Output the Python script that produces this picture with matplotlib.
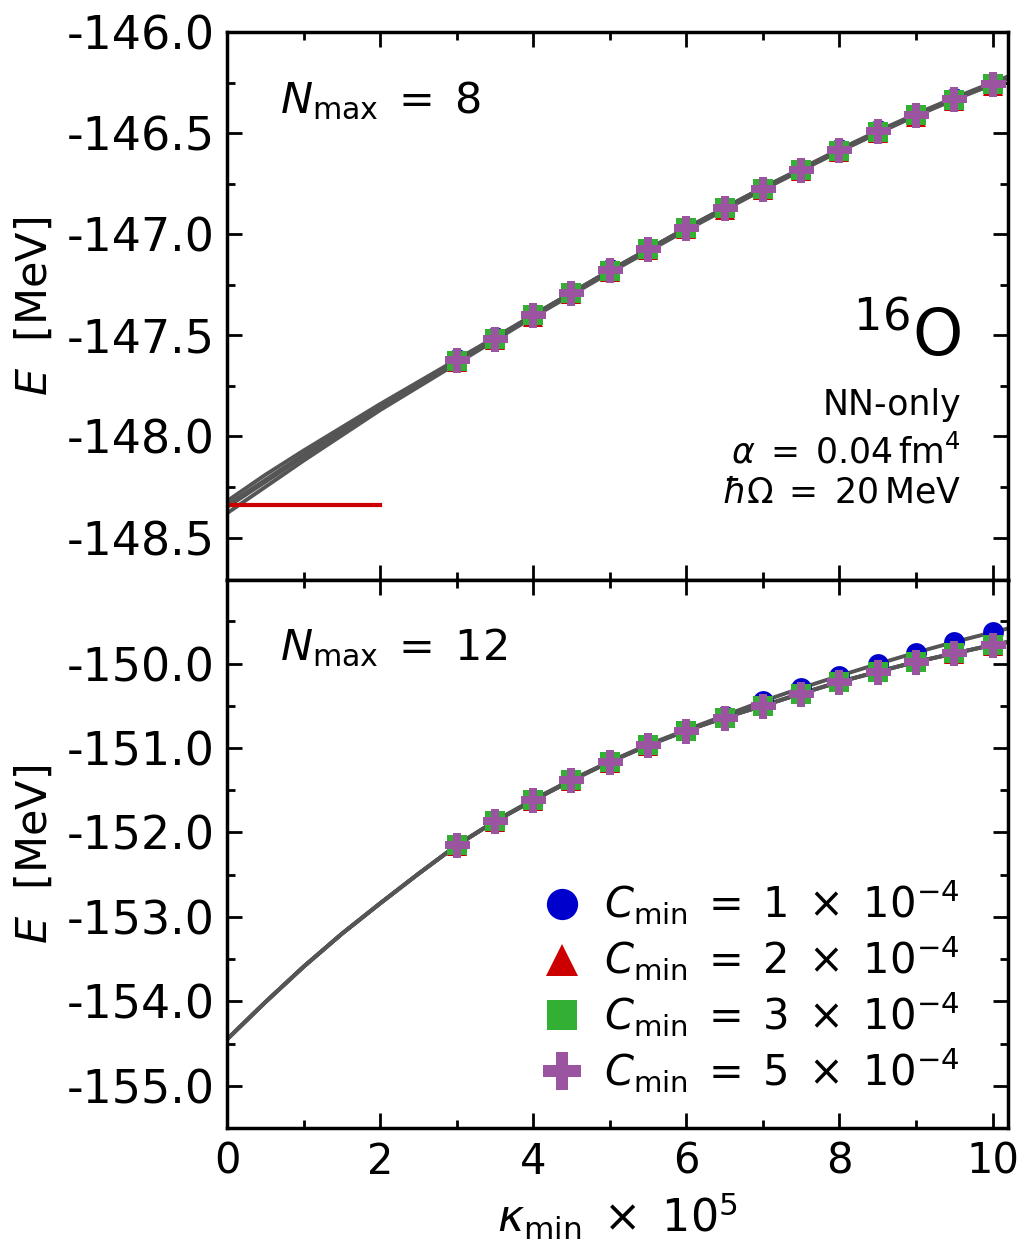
import matplotlib.pyplot as plt
import numpy as np
from matplotlib.ticker import MultipleLocator, FormatStrFormatter

plt.rcParams['axes.unicode_minus'] = False
plt.rcParams['mathtext.fontset'] = 'dejavusans'

# kappa_min x 10^5 for the data points
kappa = np.array([3.0, 3.5, 4.0, 4.5, 5.0, 5.5, 6.0, 6.5, 7.0, 7.5, 8.0, 8.5, 9.0, 9.5, 10.0])

# Nmax = 8 energies (MeV)
E8_c1 = np.array([-147.618, -147.510, -147.395, -147.284, -147.173, -147.066, -146.962, -146.865, -146.769, -146.675, -146.579, -146.485, -146.405, -146.328, -146.252])
E8_c2 = np.array([-147.632, -147.524, -147.409, -147.297, -147.186, -147.079, -146.975, -146.878, -146.782, -146.688, -146.592, -146.498, -146.418, -146.340, -146.265])
E8_c3 = np.array([-147.626, -147.518, -147.402, -147.291, -147.180, -147.073, -146.969, -146.872, -146.776, -146.682, -146.586, -146.492, -146.412, -146.335, -146.259])
E8_c5 = np.array([-147.624, -147.516, -147.400, -147.289, -147.178, -147.071, -146.967, -146.870, -146.774, -146.680, -146.584, -146.490, -146.410, -146.333, -146.257])

# Nmax = 12 energies (MeV)
E12_c1 = np.array([-152.150, -151.865, -151.615, -151.378, -151.160, -150.962, -150.785, -150.620, -150.446, -150.290, -150.146, -150.010, -149.870, -149.740, -149.625])
E12_c2 = np.array([-152.160, -151.875, -151.627, -151.390, -151.172, -150.975, -150.800, -150.647, -150.507, -150.362, -150.224, -150.105, -149.987, -149.887, -149.787])
E12_c3 = np.array([-152.153, -151.868, -151.620, -151.383, -151.165, -150.968, -150.794, -150.640, -150.500, -150.355, -150.217, -150.098, -149.980, -149.880, -149.780])
E12_c5 = np.array([-152.153, -151.868, -151.620, -151.383, -151.165, -150.968, -150.794, -150.640, -150.500, -150.355, -150.217, -150.098, -149.980, -149.880, -149.780])

# extrapolation curves
kappa_fit = np.array([0.0, 0.5, 1.0, 1.5, 2.0, 2.5, 3.0, 3.5, 4.0, 4.5, 5.0, 5.5, 6.0, 6.5, 7.0, 7.5, 8.0, 8.5, 9.0, 9.5, 10.0, 10.4])
fit8 = [
    np.array([-148.32, -148.19, -148.07, -147.955, -147.84, -147.73, -147.62, -147.51, -147.40, -147.29, -147.18, -147.075, -146.97, -146.87, -146.77, -146.675, -146.58, -146.49, -146.405, -146.325, -146.25, -146.19]),
    np.array([-148.38, -148.25, -148.12, -147.995, -147.87, -147.755, -147.64, -147.525, -147.41, -147.30, -147.19, -147.085, -146.98, -146.88, -146.78, -146.685, -146.59, -146.50, -146.415, -146.335, -146.26, -146.20]),
    np.array([-148.35, -148.225, -148.10, -147.98, -147.86, -147.745, -147.63, -147.515, -147.40, -147.29, -147.18, -147.075, -146.97, -146.87, -146.77, -146.68, -146.59, -146.50, -146.41, -146.33, -146.26, -146.20]),
    np.array([-148.34, -148.215, -148.09, -147.97, -147.85, -147.74, -147.63, -147.515, -147.40, -147.29, -147.18, -147.075, -146.97, -146.87, -146.77, -146.68, -146.585, -146.495, -146.41, -146.33, -146.255, -146.195]),
]
fit12 = [
    np.array([-154.45, -154.01, -153.59, -153.20, -152.84, -152.49, -152.15, -151.865, -151.61, -151.375, -151.16, -150.96, -150.785, -150.615, -150.445, -150.29, -150.145, -150.005, -149.87, -149.745, -149.63, -149.54]),
    np.array([-154.45, -154.01, -153.59, -153.20, -152.84, -152.49, -152.155, -151.87, -151.62, -151.385, -151.165, -150.97, -150.795, -150.64, -150.50, -150.355, -150.217, -150.095, -149.98, -149.88, -149.78, -149.71]),
    np.array([-154.45, -154.01, -153.59, -153.20, -152.84, -152.49, -152.153, -151.868, -151.62, -151.383, -151.165, -150.968, -150.794, -150.64, -150.50, -150.355, -150.217, -150.098, -149.98, -149.88, -149.78, -149.71]),
    np.array([-154.45, -154.01, -153.59, -153.20, -152.84, -152.49, -152.153, -151.868, -151.62, -151.383, -151.165, -150.968, -150.794, -150.64, -150.50, -150.355, -150.217, -150.098, -149.98, -149.88, -149.78, -149.71]),
]

# reference value (red line) for Nmax = 8
ref_kappa = [0.0, 2.0]
ref_E8 = [-148.34, -148.34]

labels = [r'$C_{\min}\;=\;1\;\times\;10^{-4}$', r'$C_{\min}\;=\;2\;\times\;10^{-4}$',
          r'$C_{\min}\;=\;3\;\times\;10^{-4}$', r'$C_{\min}\;=\;5\;\times\;10^{-4}$']
colors = ['#0000cc', '#cc0000', '#33b033', '#9b55a0']
markers = ['o', '^', 's', 'P']
msizes = [15, 15, 14, 18]

fig = plt.figure(figsize=(10.18, 12.51), dpi=100)
ax1 = fig.add_axes([0.223, 0.5364, 0.767, 0.4380])
ax2 = fig.add_axes([0.223, 0.0983, 0.767, 0.4381], sharex=ax1)

for ax, fits, data in [(ax1, fit8, [E8_c1, E8_c2, E8_c3, E8_c5]),
                       (ax2, fit12, [E12_c1, E12_c2, E12_c3, E12_c5])]:
    for f in fits:
        ax.plot(kappa_fit, f, color='#555555', lw=2.8, zorder=2)
    for E, c, m, ms, lab in zip(data, colors, markers, msizes, labels):
        ax.plot(kappa, E, ls='none', marker=m, color=c, ms=ms, mew=0, label=lab, zorder=3)

ax1.plot(ref_kappa, ref_E8, color='#cc0000', lw=3, zorder=2)

ax1.set_xlim(0, 10.2)
ax1.set_ylim(-148.71, -146.0)
ax2.set_ylim(-155.5, -149.01)

ax1.yaxis.set_major_locator(MultipleLocator(0.5))
ax1.yaxis.set_minor_locator(MultipleLocator(0.25))
ax2.yaxis.set_major_locator(MultipleLocator(1.0))
ax2.yaxis.set_minor_locator(MultipleLocator(0.5))
ax2.xaxis.set_major_locator(MultipleLocator(2))
ax2.xaxis.set_minor_locator(MultipleLocator(1))
for ax in (ax1, ax2):
    ax.yaxis.set_major_formatter(FormatStrFormatter('%.1f'))
    ax.tick_params(which='both', direction='in', top=True, right=True, width=2, labelsize=33, pad=9)
    ax.tick_params(which='major', length=11)
    ax.tick_params(which='minor', length=6)
    for s in ax.spines.values():
        s.set_linewidth(2.5)
    ax.set_ylabel(r'$E$  [MeV]', fontsize=31, labelpad=8)
plt.setp(ax1.get_xticklabels(), visible=False)
ax2.tick_params(axis='x', labelsize=30)
ax2.set_xlabel(r'$\kappa_{\min}\;\times\;10^5$', fontsize=32, labelpad=6)

ax1.text(0.068, 0.852, r'$N_{\max}\;=\;8$', transform=ax1.transAxes, fontsize=31)
ax2.text(0.068, 0.854, r'$N_{\max}\;=\;12$', transform=ax2.transAxes, fontsize=31)
ax1.text(0.94, 0.41, r'$^{16}$O', transform=ax1.transAxes, fontsize=46, ha='right')
ax1.text(0.94, 0.319, 'NN-only', transform=ax1.transAxes, fontsize=25, ha='right', va='center')
ax1.text(0.94, 0.232, r'$\alpha\;=\;0.04\,\mathrm{fm}^4$', transform=ax1.transAxes, fontsize=25, ha='right', va='center')
ax1.text(0.94, 0.159, r'$\hbar\Omega\;=\;20\,\mathrm{MeV}$', transform=ax1.transAxes, fontsize=25, ha='right', va='center')

ax2.legend(loc='lower right', bbox_to_anchor=(0.97, 0.015), frameon=False, fontsize=30,
           markerscale=1.5, handletextpad=0.4, labelspacing=0.17, handlelength=1.2, borderpad=0.1)

fig.savefig('out.png', dpi=100)
